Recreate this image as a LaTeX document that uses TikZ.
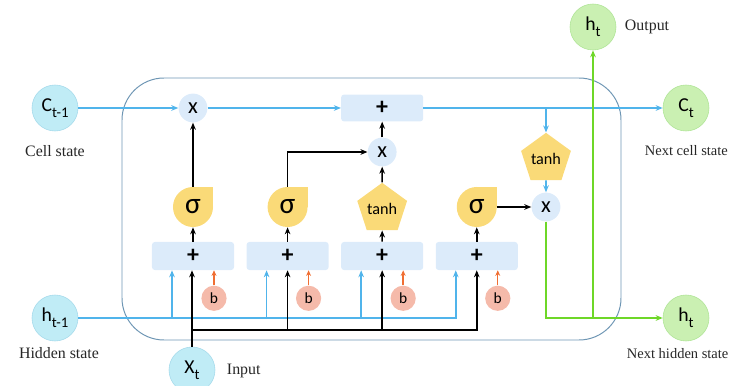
\documentclass[tikz,border=0pt]{standalone}
\usepackage{fontspec}
\setmainfont{Liberation Serif}
\newfontfamily\gatefont{Carlito}
\usetikzlibrary{shapes.geometric, arrows.meta, positioning, calc, backgrounds}
\definecolor{cellblue}{RGB}{80,180,235}
\definecolor{framegray}{RGB}{110,150,180}
\definecolor{statecyan}{RGB}{192,236,246}
\definecolor{stateedge}{RGB}{165,218,235}
\definecolor{outgreen}{RGB}{202,240,178}
\definecolor{outedge}{RGB}{175,228,150}
\definecolor{hgreen}{RGB}{110,215,40}
\definecolor{opblue}{RGB}{220,235,250}
\definecolor{gateyellow}{RGB}{250,218,120}
\definecolor{biasred}{RGB}{245,186,170}
\definecolor{biasorange}{RGB}{240,110,50}
\newcommand{\idx}[1]{\raisebox{-0.6ex}{\fontsize{10.5}{10.5}\selectfont #1}}

\begin{document}
\begin{tikzpicture}[
        x=0.025cm, y=-0.025cm,
        state/.style={circle, draw=stateedge, fill=statecyan, minimum size=1.15cm, inner sep=0pt, font=\gatefont\fontsize{14}{14}\selectfont},
        outstate/.style={state, draw=outedge, fill=outgreen},
        caption/.style={font=\fontsize{11.3}{13}\selectfont, text=black!85},
        edgecaption/.style={caption, anchor=west, font=\fontsize{10.3}{12}\selectfont},
        addbox/.style={rectangle, fill=opblue, rounded corners=2pt, minimum width=2.05cm, minimum height=0.7cm, inner sep=0pt, font=\gatefont\bfseries\fontsize{17}{17}\selectfont},
        mult/.style={circle, fill=opblue, minimum size=0.72cm, inner sep=0pt, font=\gatefont\fontsize{16}{16}\selectfont},
        sig/.style={circle, fill=gateyellow, minimum size=1cm, inner sep=0pt, font=\gatefont\fontsize{21}{21}\selectfont},
        tanhgate/.style={regular polygon, regular polygon sides=5, fill=gateyellow, minimum size=1.15cm, inner sep=0pt, font=\gatefont\fontsize{11.5}{12}\selectfont},
        bias/.style={circle, fill=biasred, minimum size=0.63cm, inner sep=0pt, font=\gatefont\fontsize{11}{11}\selectfont},
        cline/.style={draw=cellblue, line width=1.1pt, -{Stealth[length=5pt, width=4pt]}},
        xline/.style={draw=black, line width=1.1pt, -{Stealth[length=5pt, width=4pt]}},
        gline/.style={draw=hgreen, line width=1.2pt, -{Stealth[length=5pt, width=4pt]}},
        bline/.style={draw=biasorange, line width=1pt, -{Stealth[length=4pt, width=3.5pt]}}
    ]
        \useasboundingbox (0,0) rectangle (732,386);
        % cell frame
        \draw[framegray, line width=0.7pt, rounded corners=1.05cm] (122,78) rectangle (621,340);

        % states
        \node[state] (cprev) at (55,108) {C\idx{t-1}};
        \node[state] (hprev) at (55,318) {h\idx{t-1}};
        \node[state] (xt) at (192,370) {X\idx{t}};
        \node[outstate] (cnext) at (686,108) {C\idx{t}};
        \node[outstate] (hnext) at (686,318) {h\idx{t}};
        \node[outstate] (hout) at (593,27) {h\idx{t}};

        \node[caption] (cprevlbl) at (55,151) {Cell state};
        \node[caption] (hprevlbl) at (59,353) {Hidden state};
        \node[caption, anchor=west] (xtlbl) at (222,371) {Input};
        \node[caption, anchor=west] (houtlbl) at (620,27) {Output};
        \node[edgecaption] (cnextlbl) at (640,151) {Next cell state};
        \node[edgecaption] (hnextlbl) at (622,354) {Next hidden state};

        % adders of the four gates
        \node[addbox] (box1) at (193,256) {+};
        \node[addbox, right=0.3cm of box1] (box2) {+};
        \node[addbox, right=0.3cm of box2] (box3) {+};
        \node[addbox, right=0.3cm of box3] (box4) {+};

        \node[sig] (sig1) at (box1 |- 0,207) {σ};
        \node[sig] (sig2) at (box2 |- 0,207) {σ};
        \node[tanhgate] (tanh1) at (box3 |- 0,209) {tanh};
        \node[sig] (sig4) at (box4 |- 0,207) {σ};
        \begin{scope}[on background layer]
            \foreach \s in {sig1,sig2,sig4}
                \fill[gateyellow] (\s.center) rectangle ++(20,-20);
        \end{scope}

        % cell state path
        \node[mult] (forget) at (box1 |- cprev) {x};
        \node[addbox, minimum height=0.67cm] (addc) at (box3 |- cprev) {+};
        \node[mult] (inmul) at (box3 |- 0,152) {x};
        \node[tanhgate] (tanho) at (546,159) {tanh};
        \node[mult] (outmul) at (546,207) {x};

        % biases
        \foreach \i in {1,...,4} {
            \node[bias] (b\i) at ($(box\i.south)+(21,28)$) {b};
            \draw[bline] (b\i) -- (b\i |- box\i.south);
        }

        % blue connectors
        \draw[cline] (cprev) -- (forget);
        \draw[cline] (forget) -- (addc);
        \draw[cline] (addc) -- (cnext);
        \coordinate (csplit) at (tanho |- cprev);
        \draw[cline] (csplit) -- (tanho);
        \draw[cline] (tanho) -- (outmul);
        \foreach \i in {1,...,4}
            \coordinate (hin\i) at ($(box\i.south)+(-21,0)$);
        \draw[cline] (hprev) -| (hin4);
        \foreach \i in {1,2,3}
            \draw[cline] (hin\i |- hprev) -- (hin\i);

        % black connectors
        \coordinate (xbus) at (xt |- 0,330);
        \draw[xline] (xt) -- (xt |- box1.south);
        \draw[xline] (xbus) -| (box4.south);
        \foreach \i in {2,3}
            \draw[xline] (box\i.south |- xbus) -- (box\i.south);
        \foreach \g/\b in {sig1/box1, sig2/box2, tanh1/box3, sig4/box4}
            \draw[xline] (\b) -- (\g);
        \draw[xline] (sig1) -- (forget);
        \draw[xline] (sig2) |- (inmul);
        \draw[xline] (tanh1) -- (inmul);
        \draw[xline] (inmul) -- (addc);
        \draw[xline] (sig4) -- (outmul);

        % green connectors
        \coordinate (hjoin) at (hout |- hnext);
        \draw[gline] (outmul) |- (hnext);
        \draw[gline] (hjoin) -- (hout);
    \end{tikzpicture}
\end{document}
